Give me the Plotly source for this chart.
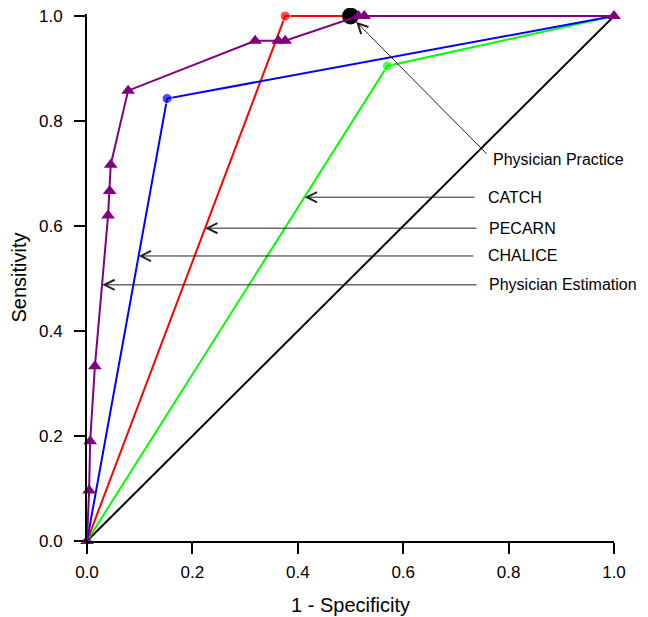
import plotly.graph_objects as go

# Reference diagonal
diag_x = [0.0, 1.0]
diag_y = [0.0, 1.0]

# CATCH (green)
catch_x = [0.0, 0.570, 1.0]
catch_y = [0.0, 0.905, 1.0]

# PECARN (red)
pecarn_x = [0.0, 0.376, 1.0]
pecarn_y = [0.0, 1.0, 1.0]

# CHALICE (blue)
chalice_x = [0.0, 0.152, 1.0]
chalice_y = [0.0, 0.843, 1.0]

# Physician Estimation (purple)
est_x = [0.0, 0.004, 0.006, 0.015, 0.040, 0.043, 0.045, 0.078, 0.319, 0.363, 0.376, 0.515, 0.526, 1.0]
est_y = [0.0, 0.096, 0.190, 0.333, 0.620, 0.667, 0.717, 0.858, 0.953, 0.953, 0.953, 1.0, 1.0, 1.0]

# Physician Practice (black point)
practice_x = [0.5]
practice_y = [1.0]

# Annotations
labels = ["Physician Practice", "CATCH", "PECARN", "CHALICE", "Physician Estimation"]
arrow_tip_x = [0.500, 0.413, 0.224, 0.098, 0.029]
arrow_tip_y = [1.000, 0.655, 0.596, 0.543, 0.488]
arrow_tail_x = [0.761, 0.738, 0.742, 0.736, 0.742]
arrow_tail_y = [0.735, 0.655, 0.596, 0.543, 0.488]
label_x = [0.767, 0.757, 0.759, 0.757, 0.759]
label_y = [0.726, 0.655, 0.596, 0.543, 0.488]

tick_vals = [0.0, 0.2, 0.4, 0.6, 0.8, 1.0]
tick_text = ["0.0", "0.2", "0.4", "0.6", "0.8", "1.0"]

FONT = "Liberation Sans, Arial, sans-serif"

fig = go.Figure()

fig.add_trace(go.Scatter(x=diag_x, y=diag_y, mode="lines",
                         line=dict(color="black", width=2), cliponaxis=False))
fig.add_trace(go.Scatter(x=catch_x, y=catch_y, mode="lines+markers",
                         line=dict(color="#00ff00", width=2),
                         marker=dict(size=[0, 10, 0], color="#00ff00"), cliponaxis=False))
fig.add_trace(go.Scatter(x=pecarn_x, y=pecarn_y, mode="lines+markers",
                         line=dict(color="#ff0000", width=2),
                         marker=dict(size=[0, 10, 0], color="#ff0000"), cliponaxis=False))
fig.add_trace(go.Scatter(x=chalice_x, y=chalice_y, mode="lines+markers",
                         line=dict(color="#0000ff", width=2),
                         marker=dict(size=[0, 10, 0], color="#0000ff"), cliponaxis=False))
fig.add_trace(go.Scatter(x=practice_x, y=practice_y, mode="markers",
                         marker=dict(size=17, color="black"), cliponaxis=False))
fig.add_trace(go.Scatter(x=est_x, y=est_y, mode="lines+markers",
                         line=dict(color="#800080", width=2),
                         marker=dict(symbol="triangle-up", size=12, color="#800080"),
                         cliponaxis=False))

for i, lab in enumerate(labels):
    fig.add_annotation(x=arrow_tip_x[i], y=arrow_tip_y[i], xref="x", yref="y",
                       ax=arrow_tail_x[i], ay=arrow_tail_y[i], axref="x", ayref="y",
                       text="", showarrow=True, arrowhead=5, arrowsize=2,
                       arrowwidth=1, arrowcolor="#222222",
                       standoff=8 if i == 0 else 0)
    fig.add_annotation(x=label_x[i], y=label_y[i], xref="x", yref="y",
                       text=lab, showarrow=False, xanchor="left", yanchor="middle",
                       font=dict(family=FONT, size=16, color="black"))

axis_common = dict(
    tickvals=tick_vals, ticktext=tick_text,
    showline=True, linecolor="black", linewidth=2,
    ticks="outside", ticklen=11, tickwidth=2, tickcolor="black",
    showgrid=False, zeroline=False, automargin=False,
    ticklabeloverflow="allow",
    tickfont=dict(family=FONT, size=17, color="black"),
)

fig.update_layout(
    width=648, height=617,
    margin=dict(l=79, r=42, t=6, b=84),
    paper_bgcolor="white", plot_bgcolor="white",
    showlegend=False,
    xaxis=dict(**axis_common, range=[0, 1],
               title=dict(text="1 - Specificity",
                          font=dict(family=FONT, size=20, color="black"), standoff=17),
               ticklabelstandoff=4),
    yaxis=dict(**axis_common, range=[0, 1.004],
               title=dict(text="Sensitivity",
                          font=dict(family=FONT, size=20, color="black"), standoff=14),
               ticklabelstandoff=8),
)

fig.write_html("out.html")
